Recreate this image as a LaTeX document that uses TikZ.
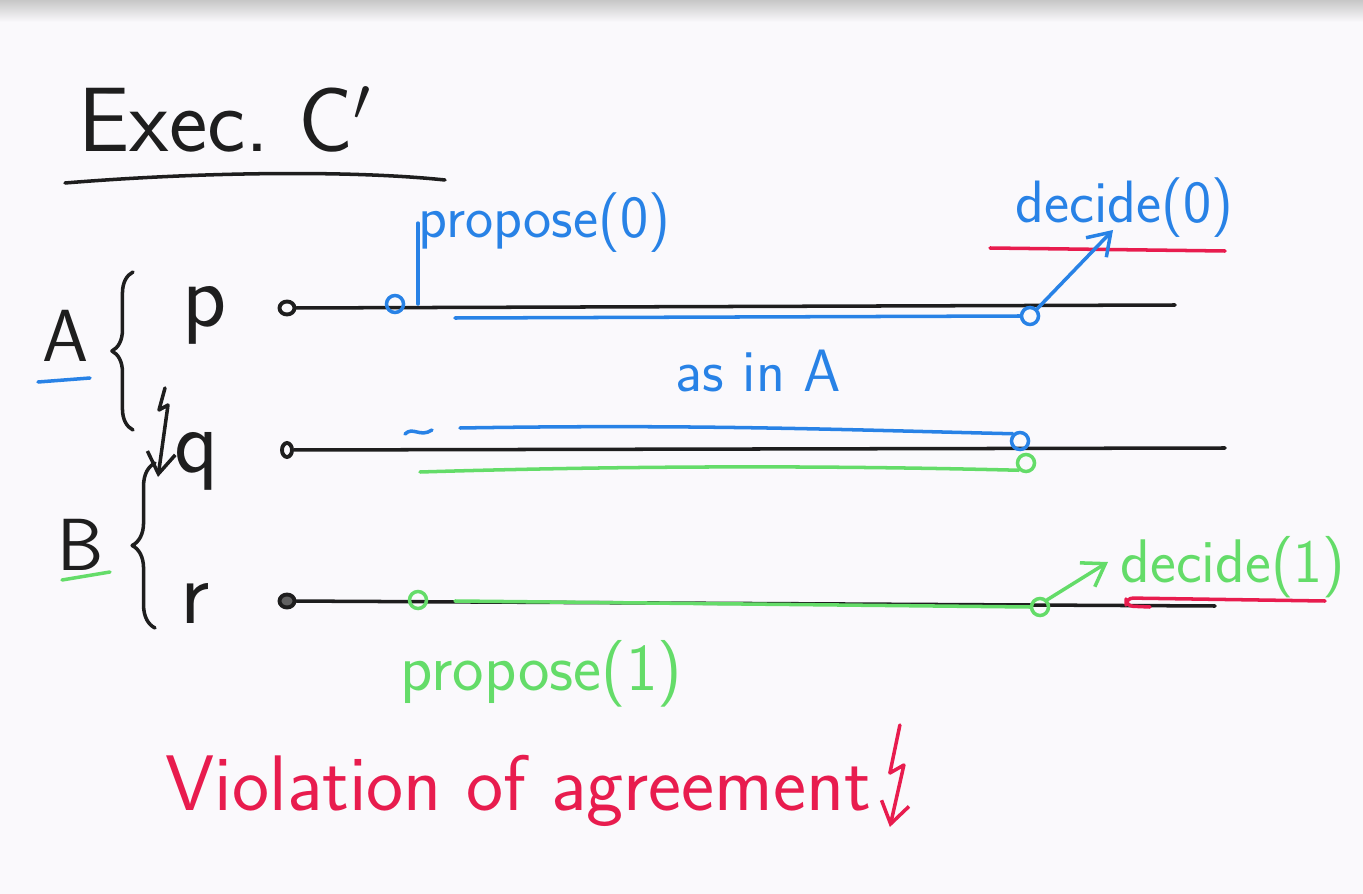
\documentclass[tikz,border=0pt]{standalone}
\usepackage{tikz}
\usetikzlibrary{arrows.meta, calc, decorations.pathreplacing, shapes.geometric}

\definecolor{penblue}{RGB}{40,130,230}
\definecolor{pengreen}{RGB}{100,220,105}
\definecolor{penred}{RGB}{232,28,78}
\definecolor{penblack}{RGB}{30,30,30}
\definecolor{board}{RGB}{250,249,252}

\newcommand\penfont[1]{\sffamily\fontsize{#1}{#1}\selectfont}

\begin{document}
\begin{tikzpicture}[x=0.01cm, y=-0.01cm,
  ink/.style     = {draw=#1, line width=1pt, line cap=round, line join=round},
  hand/.style    = {anchor=base west, inner sep=0pt, text=#1},
  ev/.style      = {circle, draw=#1, line width=1pt, minimum size=0.17cm, inner sep=0pt},
  initdot/.style = {ellipse, draw=penblack, line width=1.1pt, minimum width=0.15cm,
                    minimum height=0.13cm, inner sep=0pt},
  arr/.style     = {-{Straight Barb[length=6pt, width=8pt]}},
  curly/.style   = {decorate, decoration={brace, amplitude=#1}}
]
  % board
  \fill[board] (0,0) rectangle (1363,894);
  \shade[top color=black!22, bottom color=board] (0,0) rectangle (1363,22);
  \useasboundingbox (0,0) rectangle (1363,894);

  % title
  \node[hand=penblack, font=\penfont{26}] (title) at (78,152) {Exec.~C$'$};
  \draw[ink=penblack] (65,183) .. controls (200,172) and (350,170) .. (445,180);

  % groups A and B
  \node[hand=penblack, font=\penfont{21}] (grpA) at (42,362) {A};
  \draw[ink=penblue] (38,382) -- (90,378);
  \draw[ink=penblack, curly=6pt] (133,430) -- (133,272);
  \node[hand=penblack, font=\penfont{21}] (grpB) at (57,570) {B};
  \draw[ink=pengreen] (62,580) -- (110,572);
  \draw[ink=penblack, curly=6.5pt] (155,628) -- (155,463);

  % processes
  \node[hand=penblack, font=\penfont{26}] (procP) at (182,327) {p};
  \node[hand=penblack, font=\penfont{26}] (procQ) at (174,472) {q};
  \node[hand=penblack, font=\penfont{26}] (procR) at (180,623) {r};

  % crash of q
  \coordinate (crashTop) at (165,388);
  \draw[ink=penblack, arr] (crashTop) -- ++(-6,22) -- ++(9,-5) -- ++(-10,72);

  % time lines
  \node[initdot] (p0) at (287,308) {};
  \node[initdot, minimum width=0.1cm, minimum height=0.14cm] (q0) at (287,450) {};
  \node[initdot, fill=penblack!70] (r0) at (287,601) {};
  \coordinate (pend) at (1175,305);
  \coordinate (qend) at (1225,448);
  \coordinate (rend) at (1215,606);
  \draw[ink=penblack] (p0) -- (pend);
  \draw[ink=penblack] (q0) -- (qend);
  \draw[ink=penblack] (r0) -- (rend);

  % run A
  \node[ev=penblue] (pprop) at (395,304) {};
  \node[ev=penblue] (pdec)  at (1030,316) {};
  \node[hand=penblue, font=\penfont{17}] (prop0) at (418,238) {propose(0)};
  \draw[ink=penblue] (pprop.east -| prop0.west) -- (prop0.west);
  \coordinate (runA) at (455,318);
  \draw[ink=penblue] (runA) -- (pdec.west);
  \node[hand=penblue, font=\penfont{17}] (dec0) at (1015,222) {decide(0)};
  \draw[ink=penred] (990,248) -- (1225,251);
  \draw[ink=penblue, arr] (pdec.north east) -- ($(dec0.base west)+(98,8)$);
  \node[hand=penblue, font=\penfont{17}] (asA) at (675,392) {as in A};

  % q in run A and in run B
  \node[ev=penblue]  (qdecA) at (1020,441) {};
  \node[ev=pengreen] (qdecB) at (1026,463) {};
  \draw[ink=penblue] (405,434) .. controls (413,426) and (420,438) .. (432,430);
  \coordinate (qrunA) at (460,428);
  \draw[ink=penblue] (qrunA) .. controls (700,424) and (850,430) .. (qdecA.north west);
  \coordinate (qrunB) at (420,472);
  \draw[ink=pengreen] (qrunB) .. controls (650,465) and (850,466) .. (qdecB.south west);

  % run B
  \node[ev=pengreen] (rprop) at (418,600) {};
  \node[ev=pengreen] (rdec)  at (1040,607) {};
  \coordinate (runB) at (455,601);
  \draw[ink=pengreen] (runB) -- (rdec.west);
  \node[hand=pengreen, font=\penfont{19}] (prop1) at (400,690) {propose(1)};
  \node[hand=pengreen, font=\penfont{17.5}] (dec1) at (1120,582) {decide(1)};
  \draw[ink=pengreen, arr] (rdec.north east) -- ($(dec1.base west)+(-12,-20)$);
  \draw[ink=penred, rounded corners=2pt] (1150,607) -- (1126,606) -- (1126,598) -- (1325,601);

  % verdict
  \node[hand=penred, font=\penfont{22.4}] (viol) at (165,810) {Violation of agreement};
  \coordinate (boltTop) at ($(viol.base east)+(28,-85)$);
  \draw[ink=penred, arr] (boltTop) -- ++(-10,48) -- ++(14,-8) -- ++(-14,62);
\end{tikzpicture}
\end{document}
